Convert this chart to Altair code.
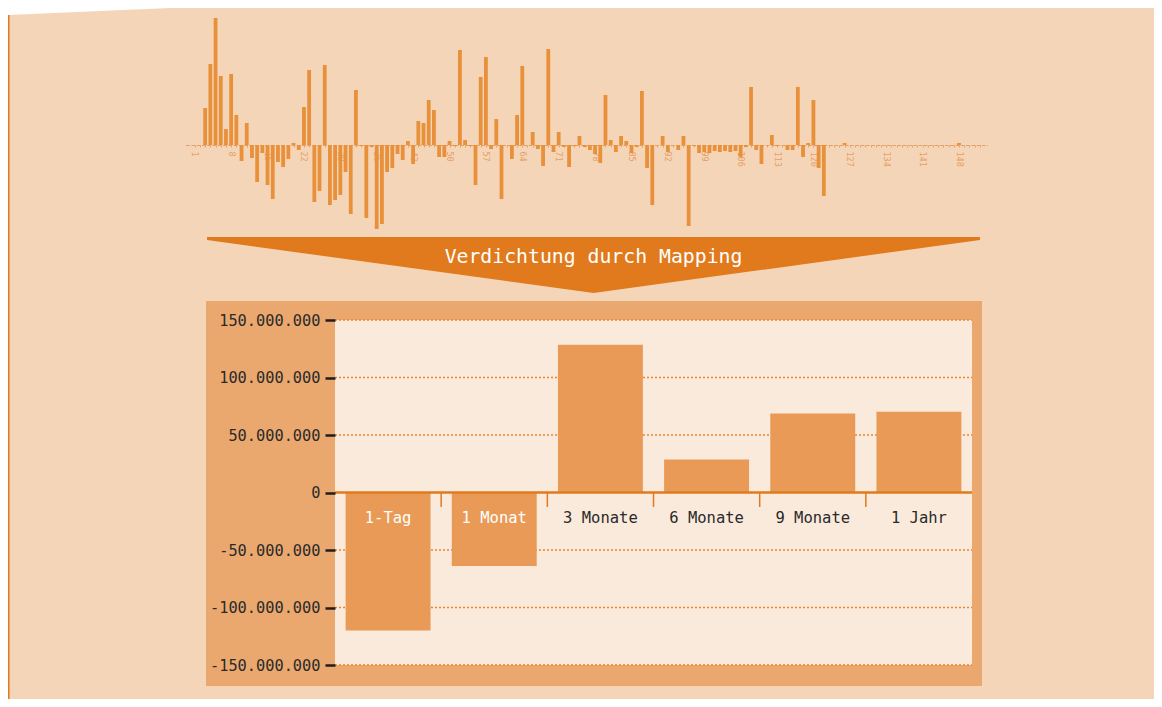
import altair as alt
import pandas as pd

# ---------------- data ----------------
# top mini chart: daily values (relative units), index 1..152
top_values = [
    0, 0, 37, 81, 127, 69, 16, 71, 30, -16,
    22, -13, -37, -8, -40, -54, -17, -22, -14, 2,
    -5, 38, 75, -57, -46, 80, -60, -55, -50, -27,
    -69, 55, -1, -73, -2, -84, -79, -27, -23, -9,
    -15, 4, -19, 24, 22, 45, 35, -12, -12, 4,
    -1, 95, 5, -1, -40, 68, 88, -4, 26, -54,
    0, -14, 30, 79, 0, 13, -4, -21, 96, -7,
    13, -2, -22, -1, 9, -2, -5, -9, -18, 50,
    5, -7, 9, 4, -8, -2, 54, -23, -60, 0,
    9, -7, 0, -5, 9, -81, -1, -8, -7, -8,
    -6, -7, -6, -7, -6, -12, -2, 58, -5, -19,
    0, 10, -1, 0, -5, -5, 58, -12, 2, 45,
    -23, -51, 0, 0, 0, 2, 0, 0, 0, 0,
    0, 0, 0, 0, 0, 0, 0, 0, 0, 0,
    0, 0, 0, 0, 0, 0, 0, 2, 0, 0,
    0, 0,
]
top_index = list(range(1, len(top_values) + 1))

# bottom chart
categories = ["1-Tag", "1 Monat", "3 Monate", "6 Monate", "9 Monate", "1 Jahr"]
cat_values = [-120_000_000, -64_000_000, 128_500_000, 28_600_000, 68_600_000, 70_300_000]
y_ticks = [-150_000_000, -100_000_000, -50_000_000, 0, 50_000_000, 100_000_000, 150_000_000]

banner_text = "Verdichtung durch Mapping"

# ---------------- styling ----------------
W, H = 1146, 691
MONO = "DejaVu Sans Mono"
BG = "#F5D5B7"
ORANGE = "#E07A1C"
BOX = "#EAA86E"
PLOT = "#FAEADC"
BAR = "#E89A56"
TOPBAR = "#E8903A"
GRID = "#E8862E"
FAINT = "#E6A064"

top_df = pd.DataFrame({"idx": top_index, "val": top_values})
bot_df = pd.DataFrame({"cat": categories, "v": cat_values})
grid_df = pd.DataFrame({"g": [v for v in y_ticks if v != 0]})
zero_df = pd.DataFrame({"z": [0]})
sep_df = pd.DataFrame({"cat": categories[1:], "z": [0] * (len(categories) - 1)})
one = pd.DataFrame({"k": [0]})

x_top = alt.Scale(domain=[0.2, 152.5], range=[177.6, 979.4], nice=False, zero=False)
y_top = alt.Scale(domain=[-100, 130], range=[237, 7], nice=False)
x_bot = alt.Scale(domain=categories, range=[327, 964], paddingInner=0.2, paddingOuter=0.1)
y_bot = alt.Scale(domain=[-150_000_000, 150_000_000], range=[657, 312], nice=False)

# ---------------- decoration ----------------
paper = alt.Chart(one).mark_point(
    shape="M0,0 L162,0 L0,7 Z", size=4, filled=True, fill="white", opacity=1, strokeWidth=0
).encode(x=alt.value(0), y=alt.value(0))

edge = alt.Chart(one).mark_rule(color=ORANGE, strokeWidth=1.5).encode(
    x=alt.value(0.75), y=alt.value(7), y2=alt.value(H)
)

box = alt.Chart(one).mark_rect(color=BOX).encode(
    x=alt.value(198), x2=alt.value(974), y=alt.value(293), y2=alt.value(678)
)
plot_bg = alt.Chart(one).mark_rect(color=PLOT).encode(
    x=alt.value(327), x2=alt.value(964), y=alt.value(312), y2=alt.value(657)
)

# ---------------- bottom chart ----------------
grid = alt.Chart(grid_df).mark_rule(color=GRID, strokeDash=[2, 2], strokeWidth=1.5).encode(
    y=alt.Y("g:Q", scale=y_bot, axis=None), x=alt.value(327), x2=alt.value(964)
)

label_expr = (
    "(datum.value < 0 ? '-' : '') + replace(replace(replace("
    "format(abs(datum.value), ','), ',', '.'), ',', '.'), ',', '.')"
)

bars = alt.Chart(bot_df).mark_bar(color=BAR).encode(
    x=alt.X("cat:N", scale=x_bot, axis=None, sort=categories),
    y=alt.Y(
        "v:Q",
        scale=y_bot,
        axis=alt.Axis(
            orient="left", offset=-327, values=y_ticks, grid=False, domain=False,
            tickColor="#1E1E1E", tickSize=10, tickWidth=2.5,
            labelFont=MONO, labelFontSize=15.3, labelColor="#2A2A2A", labelPadding=5,
            labelExpr=label_expr, labelOverlap=False, zindex=1, title=None,
        ),
    ),
)

zero = alt.Chart(zero_df).mark_rule(color=ORANGE, strokeWidth=2.5).encode(
    y=alt.Y("z:Q", scale=y_bot, axis=None), x=alt.value(327), x2=alt.value(964)
)

seps = alt.Chart(sep_df).mark_rule(color=ORANGE, strokeWidth=1.5, xOffset=-10.6).encode(
    x=alt.X("cat:N", scale=x_bot, axis=None, sort=categories, bandPosition=0),
    y=alt.Y("z:Q", scale=y_bot, axis=None),
    y2=alt.value(499),
)

cat_labels = alt.Chart(bot_df).mark_text(font=MONO, fontSize=15.5, baseline="middle").encode(
    x=alt.X("cat:N", scale=x_bot, axis=None, sort=categories),
    y=alt.value(510),
    text="cat:N",
    color=alt.condition("datum.v < 0", alt.value("white"), alt.value("#2A2A2A")),
)

# ---------------- top chart ----------------
top_bars = alt.Chart(top_df).mark_bar(color=TOPBAR, size=3.8).encode(
    x=alt.X(
        "idx:Q",
        scale=x_top,
        axis=alt.Axis(
            orient="bottom", offset=-(H - 137), values=top_index,
            labelExpr="(datum.value - 1) % 7 == 0 ? '' + datum.value : ''",
            labelAngle=90, labelAlign="left", labelBaseline="middle",
            labelFont=MONO, labelFontSize=8.5, labelColor=FAINT,
            labelOverlap=False, labelFlush=False, labelPadding=4,
            domainColor=FAINT, domainDash=[3.8, 1.47], tickColor=FAINT, tickSize=2,
            grid=False, title=None,
        ),
    ),
    y=alt.Y("val:Q", scale=y_top, axis=None),
)

# ---------------- banner ----------------
banner = alt.Chart(one).mark_point(
    shape="M-386.5,0 L386.5,0 L386.5,3 L0,56 L-386.5,3 Z",
    size=4, filled=True, fill=ORANGE, opacity=1, strokeWidth=0,
).encode(x=alt.value(585.5), y=alt.value(229))

banner_label = alt.Chart(one).mark_text(
    text=banner_text, font=MONO, fontSize=19.8, color="white", baseline="middle"
).encode(x=alt.value(585.5), y=alt.value(249))

chart = (
    alt.layer(
        paper, edge, box, plot_bg, grid, bars, zero, seps, cat_labels,
        top_bars, banner, banner_label,
    )
    .resolve_scale(x="independent", y="independent")
    .properties(
        width=W, height=H, padding=0,
        autosize=alt.AutoSizeParams(type="none"),
        background=BG,
    )
    .configure_view(strokeWidth=0)
)

chart.save("out.html", embed_options={"renderer": "svg", "actions": False})
